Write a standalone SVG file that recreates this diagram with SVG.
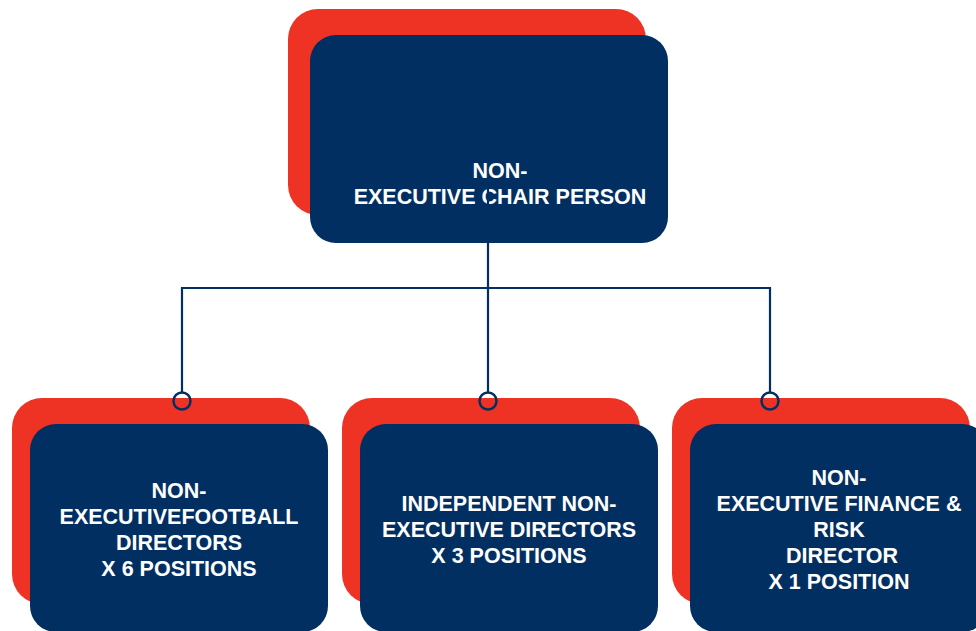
<svg xmlns="http://www.w3.org/2000/svg" width="976" height="631" viewBox="0 0 976 631">
  <style>
    .back { fill: #ee3325; }
    .front { fill: #012f62; }
    .label { fill: #ffffff; font-family: "Liberation Sans", Arial, sans-serif; font-weight: bold; font-size: 21.5px; text-anchor: middle; }
    .wire { fill: none; stroke: #012f62; stroke-width: 2.2; }
    .pin { fill: none; stroke: #012f62; stroke-width: 2.5; }
  </style>
  <rect width="976" height="631" fill="#ffffff"/>

  <!-- Chair -->
  <g id="chair">
    <rect class="back" x="288" y="9" width="358" height="206" rx="30"/>
    <rect class="front" x="310" y="35" width="358" height="208" rx="26"/>
    <text class="label" x="500" y="178">NON-</text>
    <text class="label" x="500" y="204">EXECUTIVE CHAIR PERSON</text>
  </g>

  <!-- Football directors -->
  <g id="football-directors">
    <rect class="back" x="12" y="398" width="298" height="206" rx="30"/>
    <rect class="front" x="30" y="424" width="298" height="208" rx="26"/>
    <text class="label" x="179" y="498">NON-</text>
    <text class="label" x="179" y="524">EXECUTIVEFOOTBALL</text>
    <text class="label" x="179" y="550">DIRECTORS</text>
    <text class="label" x="179" y="576">X 6 POSITIONS</text>
  </g>

  <!-- Independent directors -->
  <g id="independent-directors">
    <rect class="back" x="342" y="398" width="298" height="206" rx="30"/>
    <rect class="front" x="360" y="424" width="298" height="208" rx="26"/>
    <text class="label" x="509" y="511">INDEPENDENT NON-</text>
    <text class="label" x="509" y="537">EXECUTIVE DIRECTORS</text>
    <text class="label" x="509" y="563">X 3 POSITIONS</text>
  </g>

  <!-- Finance and risk director -->
  <g id="finance-risk-director">
    <rect class="back" x="672" y="398" width="298" height="206" rx="30"/>
    <rect class="front" x="690" y="424" width="298" height="208" rx="26"/>
    <text class="label" x="839" y="485">NON-</text>
    <text class="label" x="839" y="511">EXECUTIVE FINANCE &amp;</text>
    <text class="label" x="839" y="537">RISK</text>
    <text class="label" x="842" y="563">DIRECTOR</text>
    <text class="label" x="839" y="589">X 1 POSITION</text>
  </g>

  <!-- Connectors -->
  <g id="connectors">
    <path class="wire" d="M488 186 V288 M182 392 V288 H770 V392 M488 288 V392"/>
    <circle class="pin" cx="182" cy="401" r="8.5"/>
    <circle class="pin" cx="488" cy="401" r="8.5"/>
    <circle class="pin" cx="770" cy="401" r="8.5"/>
  </g>
</svg>
